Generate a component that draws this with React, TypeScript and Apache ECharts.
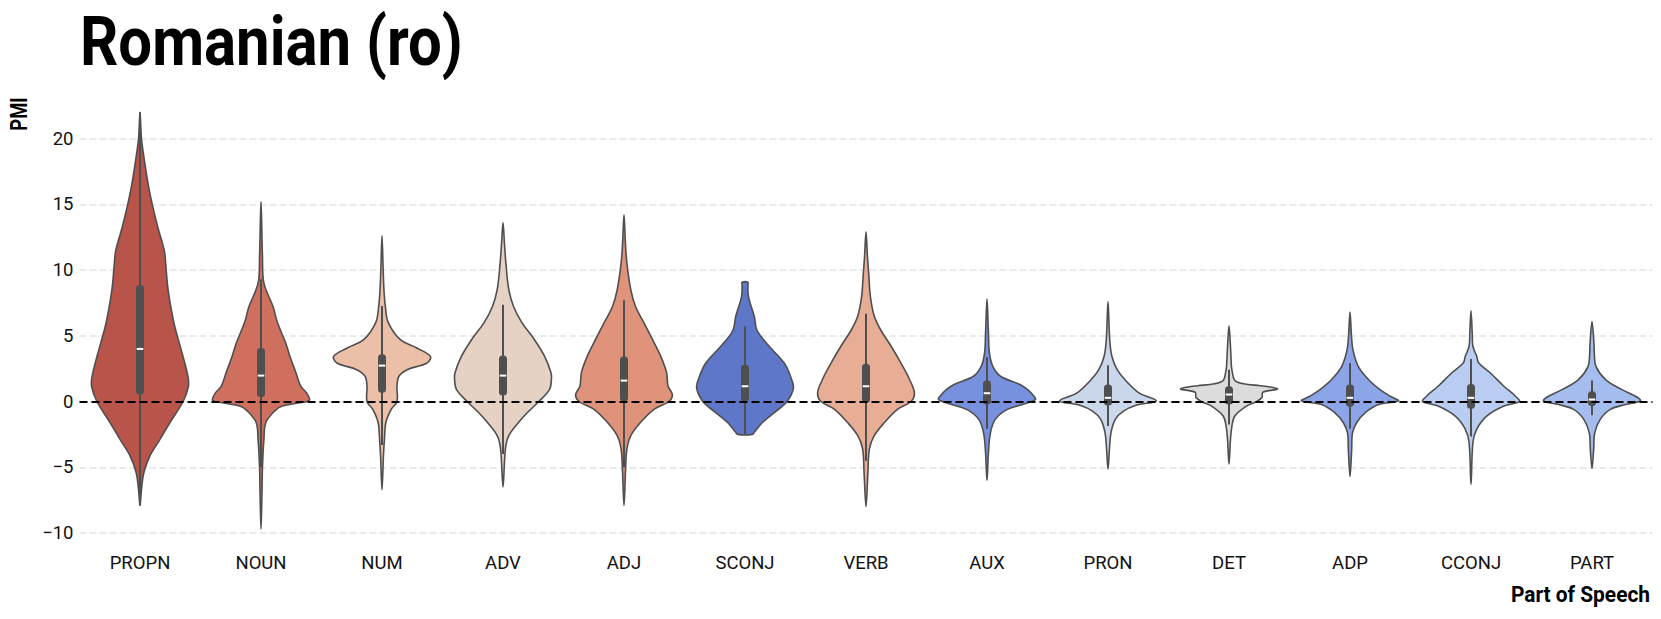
import React, { useEffect, useRef } from "react";
import * as echarts from "echarts";

// ---------- data ----------
const categories = ["PROPN", "NOUN", "NUM", "ADV", "ADJ", "SCONJ", "VERB", "AUX", "PRON", "DET", "ADP", "CCONJ", "PART"];

const fillColors = [
  "#b9544b", "#cf705f", "#ecbfa9", "#e6d1c5", "#e0937b", "#5f77c9", "#e8ad95",
  "#7891de", "#cbd7eb", "#dcdcdc", "#8ca5e8", "#b9cdf2", "#a5bcef",
];

const whiskerLow = [-7.9, -5.0, -3.3, -4.0, -5.0, -2.5, -4.5, -2.07, -1.87, -1.74, -2.07, -2.67, -1.04];
const q1 = [0.53, 0.35, 0.66, 0.45, 0.0, 0.0, -0.1, -0.23, -0.3, -0.23, -0.4, -0.56, -0.35];
const median = [4.0, 1.97, 2.73, 1.97, 1.59, 1.16, 1.16, 0.63, 0.28, 0.53, 0.28, 0.28, 0.15];
const q3 = [8.86, 4.06, 3.6, 3.5, 3.43, 2.8, 2.88, 1.6, 1.29, 1.16, 1.29, 1.34, 0.78];
const whiskerHigh = [22.0, 9.3, 7.27, 7.35, 7.7, 5.7, 6.67, 3.37, 2.75, 2.42, 2.93, 3.23, 1.59];

// density profiles: [PMI value, relative width (1 = widest)]
const propnDensity = [[-7.9, 0], [-6.7, 0.03], [-5.4, 0.08], [-4.1, 0.21], [-2.9, 0.41], [-1.6, 0.62], [0, 0.89], [1.16, 1.0], [1.9, 0.99], [3.4, 0.89], [6.0, 0.7], [8.5, 0.58], [10.5, 0.53], [11.5, 0.5], [13.5, 0.35], [16.1, 0.19], [18.6, 0.08], [20, 0.03], [21, 0.015], [22, 0]];
const nounDensity = [[-9.7, 0], [-7, 0.02], [-5, 0.03], [-2.9, 0.06], [-1.6, 0.1], [-0.73, 0.28], [-0.35, 0.44], [-0.1, 0.8], [0.1, 1.0], [0.66, 0.94], [1.16, 0.82], [2.2, 0.72], [3.4, 0.6], [4.45, 0.51], [6.0, 0.34], [7.2, 0.25], [9.0, 0.06], [11, 0.03], [15.2, 0]];
const numDensity = [[-6.7, 0], [-4.1, 0.03], [-2.9, 0.05], [-1.6, 0.08], [-0.6, 0.19], [0, 0.31], [1.16, 0.31], [1.92, 0.35], [2.42, 0.52], [2.93, 0.93], [3.43, 1.0], [4.07, 0.72], [4.7, 0.38], [6.0, 0.13], [7.2, 0.07], [8.5, 0.04], [10.5, 0.02], [12.6, 0]];
const advDensity = [[-6.5, 0], [-3.6, 0.05], [-2.6, 0.12], [-1.6, 0.32], [-0.86, 0.5], [0, 0.74], [0.9, 0.96], [1.67, 1.0], [2.2, 0.99], [3.43, 0.86], [4.7, 0.65], [6.0, 0.39], [7.2, 0.22], [8.5, 0.12], [10.5, 0.06], [12, 0.03], [13.6, 0]];
const adjDensity = [[-7.9, 0], [-5.4, 0.03], [-3.6, 0.06], [-2.6, 0.14], [-1.6, 0.34], [-0.6, 0.62], [0, 0.93], [0.53, 1.0], [1.16, 0.91], [2.2, 0.88], [3.43, 0.76], [4.7, 0.59], [6.0, 0.41], [7.2, 0.24], [8.5, 0.14], [10.5, 0.06], [12, 0.03], [14.2, 0]];
const sconjDensity = [[-2.5, 0.15], [-2.3, 0.2], [-1.6, 0.36], [-0.86, 0.6], [0, 0.87], [1.03, 1.0], [1.92, 0.94], [2.93, 0.81], [4.2, 0.5], [5.4, 0.25], [6.5, 0.19], [8.0, 0.07], [8.9, 0.06], [9.07, 0.06]];
const verbDensity = [[-8.0, 0], [-5.4, 0.04], [-3.6, 0.07], [-2.6, 0.17], [-1.6, 0.38], [-0.6, 0.65], [0, 0.93], [0.66, 1.0], [1.67, 0.9], [2.93, 0.72], [4.2, 0.52], [5.4, 0.31], [6.5, 0.17], [8.0, 0.09], [9.5, 0.06], [11, 0.03], [12.9, 0]];
const auxDensity = [[-6.0, 0], [-3.9, 0.03], [-2.4, 0.07], [-1.36, 0.17], [-0.6, 0.42], [-0.2, 0.75], [0.15, 1.0], [0.4, 0.97], [0.9, 0.84], [1.29, 0.68], [1.92, 0.28], [2.67, 0.12], [3.7, 0.05], [5.2, 0.03], [7.8, 0]];
const pronDensity = [[-5.15, 0], [-3.6, 0.03], [-2.4, 0.06], [-1.36, 0.15], [-0.73, 0.32], [-0.28, 0.58], [0.05, 1.0], [0.66, 0.64], [1.54, 0.38], [2.42, 0.19], [3.44, 0.08], [4.7, 0.035], [7.6, 0]];
const detDensity = [[-4.77, 0], [-2.9, 0.03], [-1.87, 0.06], [-1.1, 0.12], [-0.35, 0.36], [0, 0.57], [0.3, 0.68], [0.7, 0.7], [0.95, 1.0], [1.1, 0.85], [1.2, 0.65], [1.35, 0.3], [1.6, 0.12], [2.2, 0.07], [2.7, 0.05], [4.2, 0.03], [5.76, 0]];
const adpDensity = [[-5.7, 0], [-3.6, 0.035], [-2.4, 0.05], [-1.6, 0.14], [-0.86, 0.31], [-0.23, 0.59], [0.05, 1.0], [0.4, 0.83], [0.9, 0.62], [1.67, 0.38], [2.67, 0.17], [3.94, 0.06], [5, 0.03], [6.8, 0]];
const cconjDensity = [[-6.3, 0], [-3.1, 0.04], [-2.1, 0.12], [-1.1, 0.33], [-0.35, 0.68], [0, 1.0], [0.4, 0.92], [1.16, 0.68], [2.17, 0.4], [2.93, 0.16], [3.43, 0.12], [4.2, 0.04], [5.2, 0.025], [6.9, 0]];
const partDensity = [[-5.1, 0], [-3.6, 0.035], [-2.4, 0.055], [-1.36, 0.17], [-0.6, 0.38], [-0.23, 0.69], [0.05, 1.0], [0.4, 0.9], [0.9, 0.62], [1.67, 0.28], [2.67, 0.08], [3.5, 0.05], [4.45, 0.04], [6.08, 0]];

const densities = [
  propnDensity, nounDensity, numDensity, advDensity, adjDensity, sconjDensity, verbDensity,
  auxDensity, pronDensity, detDensity, adpDensity, cconjDensity, partDensity,
];

const yMin = -10;
const yMax = 20;
const yStep = 5;

const FONT = "Roboto, 'DejaVu Sans', sans-serif";
const EDGE = "#4f4f4f";

function renderViolin(params: any, api: any) {
  const i = api.value(0);
  const prof = densities[i];
  const half = api.size([1, 0])[0] * 0.4;
  const cx = api.coord([i, 0])[0];
  const right = prof.map(([v, w]) => [cx + w * half, api.coord([i, v])[1]]);
  const left = prof
    .slice()
    .reverse()
    .filter(([, w], k, arr) => !(w === 0 && (k === 0 || k === arr.length - 1)))
    .map(([v, w]) => [cx - w * half, api.coord([i, v])[1]]);
  const points = right.concat(left);
  const yWl = api.coord([i, whiskerLow[i]])[1];
  const yWh = api.coord([i, whiskerHigh[i]])[1];
  const yQ1 = api.coord([i, q1[i]])[1];
  const yQ3 = api.coord([i, q3[i]])[1];
  const yMed = api.coord([i, median[i]])[1];
  return {
    type: "group",
    children: [
      {
        type: "polygon",
        shape: { points, smooth: 0.35 },
        style: { fill: fillColors[i], stroke: EDGE, lineWidth: 1.6 },
      },
      {
        type: "line",
        shape: { x1: cx, y1: yWl, x2: cx, y2: yWh },
        style: { stroke: EDGE, lineWidth: 2 },
      },
      {
        type: "rect",
        shape: { x: cx - 4, y: yQ3, width: 8, height: yQ1 - yQ3, r: 3.5 },
        style: { fill: EDGE },
      },
      {
        type: "line",
        shape: { x1: cx - 3.3, y1: yMed, x2: cx + 3.3, y2: yMed },
        style: { stroke: "#ffffff", lineWidth: 2 },
      },
    ],
  };
}

export default function App() {
  const ref = useRef<HTMLDivElement>(null);
  useEffect(() => {
    if (!ref.current) return;
    const chart = echarts.init(ref.current, undefined, { renderer: "svg" });
    chart.setOption({
      animation: false,
      backgroundColor: "#ffffff",
      grid: { left: 79.5, right: 8.5, top: 138.5, bottom: 86, outerBoundsMode: "none" },
      xAxis: {
        type: "category",
        data: categories,
        axisLine: { show: false },
        axisTick: { show: false },
        splitLine: { show: false },
        axisLabel: { fontSize: 18.5, color: "#111111", fontFamily: FONT, margin: 20 },
      },
      yAxis: {
        type: "value",
        min: yMin,
        max: yMax,
        interval: yStep,
        axisLine: { show: false },
        axisTick: { show: false },
        axisLabel: {
          fontSize: 18.5,
          color: "#111111",
          fontFamily: FONT,
          margin: 6,
          formatter: (v: number) => (v < 0 ? "\u2212" + Math.abs(v) : String(v)),
        },
        splitLine: { show: true, lineStyle: { color: "#e3e3e3", width: 1.5, type: [7, 3] } },
      },
      graphic: [
        {
          type: "text",
          x: 80,
          y: 42,
          scaleX: 0.868,
          style: {
            text: "Romanian (ro)",
            font: `bold 69px ${FONT}`,
            lineHeight: 60,
            fill: "#000",
            align: "left",
            verticalAlign: "middle",
          },
        },
        {
          type: "text",
          x: 19,
          y: 114,
          rotation: Math.PI / 2,
          scaleX: 0.8,
          style: { text: "PMI", font: `bold 23px ${FONT}`, fill: "#000", align: "center", verticalAlign: "middle" },
        },
        {
          type: "text",
          x: 1650,
          y: 594,
          scaleX: 0.95,
          style: { text: "Part of Speech", font: `bold 22px ${FONT}`, fill: "#000", align: "right", verticalAlign: "middle" },
        },
      ],
      series: [
        {
          type: "custom",
          renderItem: renderViolin,
          data: categories.map((_, i) => [i, median[i]]),
          encode: { x: 0, y: 1 },
          clip: false,
          z: 2,
          markLine: {
            silent: true,
            symbol: ["none", "none"],
            label: { show: false },
            z: 10,
            lineStyle: { color: "#000000", width: 2, type: [8, 4] },
            data: [{ yAxis: 0 }],
          },
        },
      ],
    });
    return () => chart.dispose();
  }, []);
  return <div ref={ref} style={{ position: "absolute", left: 0, top: 0, width: 1661, height: 619 }} />;
}
